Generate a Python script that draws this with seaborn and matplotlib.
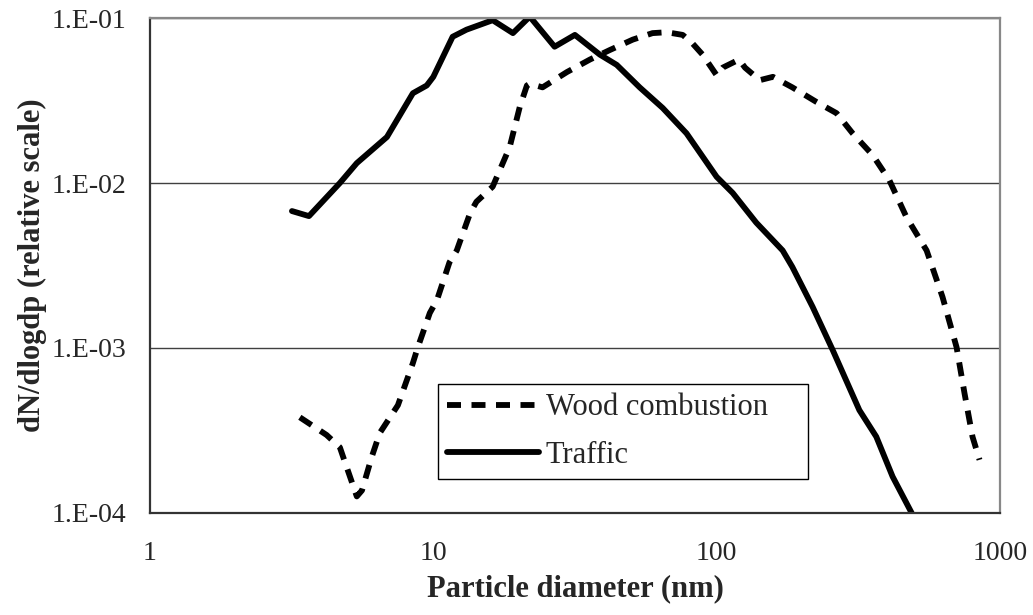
import numpy as np
import pandas as pd
import matplotlib
matplotlib.use("Agg")
import matplotlib.pyplot as plt
from matplotlib.ticker import FixedLocator, NullLocator
import seaborn as sns

# ---- data ----
traffic_dp = [3.17, 3.64, 4.68, 5.37, 6.86, 8.47, 9.48, 10.0, 11.7, 13.1, 16.2, 19.1, 21.9,
              26.8, 31.6, 38.7, 44.4, 53.5, 64.5, 78.3, 100, 114, 138, 158, 171, 185, 218,
              257, 319, 366, 418, 488]
traffic_n = [6.76e-3, 6.3e-3, 1.0e-2, 1.32e-2, 1.9e-2, 3.5e-2, 3.9e-2, 4.4e-2, 7.7e-2, 8.5e-2,
             9.7e-2, 8.1e-2, 1.02e-1, 6.7e-2, 7.9e-2, 6.0e-2, 5.2e-2, 3.8e-2, 2.85e-2, 2.0e-2,
             1.09e-2, 8.7e-3, 5.75e-3, 4.5e-3, 3.9e-3, 3.1e-3, 1.78e-3, 9.7e-4, 4.2e-4, 2.9e-4,
             1.66e-4, 1.0e-4]

wood_dp = [3.38, 4.2, 4.68, 4.8, 5.37, 5.6, 6.07, 6.47, 7.5, 8.47, 8.8, 9.72, 10.3, 11.4, 12.1,
           13.5, 14.2, 16.2, 18.6, 20.2, 21.4, 21.9, 24.3, 29.6, 35.7, 42, 50.6, 59.4, 66.7,
           75.9, 82.3, 89.2, 100, 105, 120, 126, 142, 158, 185, 225, 265, 302, 355, 407, 468,
           551, 627, 703, 750, 800, 847]
wood_n = [3.8e-4, 2.97e-4, 2.5e-4, 2.2e-4, 1.26e-4, 1.37e-4, 2.2e-4, 3.05e-4, 4.5e-4, 8.1e-4,
          1.0e-3, 1.63e-3, 1.95e-3, 3.3e-3, 3.9e-3, 6.6e-3, 7.7e-3, 9.5e-3, 1.65e-2, 2.9e-2,
          3.9e-2, 4.0e-2, 3.8e-2, 4.7e-2, 5.6e-2, 6.4e-2, 7.4e-2, 8.1e-2, 8.2e-2, 7.9e-2,
          7.0e-2, 6.0e-2, 4.5e-2, 5.0e-2, 5.6e-2, 5.0e-2, 4.2e-2, 4.4e-2, 3.8e-2, 3.1e-2,
          2.65e-2, 2.0e-2, 1.48e-2, 1.04e-2, 6.2e-3, 3.9e-3, 2.04e-3, 1.01e-3, 5.3e-4, 2.9e-4,
          2.1e-4]

series_names = ["Wood combustion", "Traffic"]
x_ticks = [1, 10, 100, 1000]
x_tick_labels = ["1", "10", "100", "1000"]
y_ticks = [1e-4, 1e-3, 1e-2, 1e-1]
y_tick_labels = ["1.E-04", "1.E-03", "1.E-02", "1.E-01"]

df = pd.concat([
    pd.DataFrame({"dp": wood_dp, "n": wood_n, "source": series_names[0]}),
    pd.DataFrame({"dp": traffic_dp, "n": traffic_n, "source": series_names[1]}),
], ignore_index=True)

sns.set_style("white")
plt.rcParams["font.family"] = ["Liberation Serif", "DejaVu Serif"]

fig = plt.figure(figsize=(10.33, 6.15), dpi=100)
ax = fig.add_axes([0.1452, 0.1659, 0.8228, 0.8048])

lw = 4.2
sns.lineplot(data=df, x="dp", y="n", hue="source", style="source",
             hue_order=series_names, style_order=series_names,
             palette={series_names[0]: "black", series_names[1]: "black"},
             dashes={series_names[0]: (2.4, 1.8), series_names[1]: ""},
             linewidth=lw, sort=False, estimator=None, ax=ax, legend=True)
for ln in ax.get_lines():
    ln.set_solid_capstyle("round")
    ln.set_solid_joinstyle("round")

ax.set_xscale("log")
ax.set_yscale("log")
ax.set_xlim(1, 1000)
ax.set_ylim(1e-4, 1e-1)

ax.xaxis.set_major_locator(FixedLocator(x_ticks))
ax.set_xticklabels(x_tick_labels)
ax.xaxis.set_minor_locator(NullLocator())
ax.yaxis.set_major_locator(FixedLocator(y_ticks))
ax.set_yticklabels(y_tick_labels)
ax.yaxis.set_minor_locator(NullLocator())

ax.grid(axis="y", color="#404040", linewidth=1.0)
ax.grid(axis="x", visible=False)
ax.set_axisbelow(True)

for s in ["left", "bottom"]:
    ax.spines[s].set_color("#333333")
    ax.spines[s].set_linewidth(1.6)
for s in ["top", "right"]:
    ax.spines[s].set_color("#888888")
    ax.spines[s].set_linewidth(1.6)

ax.tick_params(axis="both", which="major", direction="out", length=7, width=1.2,
               color="#333333", labelsize=20)
ax.tick_params(axis="x", pad=13)
ax.tick_params(axis="y", pad=10)

ax.set_xlabel("Particle diameter (nm)", fontsize=22, fontweight="bold", labelpad=6)
ax.set_ylabel("dN/dlogdp (relative scale)", fontsize=22, fontweight="bold", labelpad=3)

handles, labels = ax.get_legend_handles_labels()
leg = ax.legend(handles, labels, loc="lower left",
                bbox_to_anchor=(0.339, 0.0687, 0.435, 0.194), mode="expand",
                borderaxespad=0.0,
                fontsize=22, frameon=True, fancybox=False, edgecolor="black",
                framealpha=1, handlelength=3.0, handletextpad=0.23,
                borderpad=0.3, labelspacing=0.6)
leg.get_frame().set_linewidth(1.0)
for h in leg.get_lines():
    h.set_linewidth(lw)

fig.savefig("out.png", dpi=100)
